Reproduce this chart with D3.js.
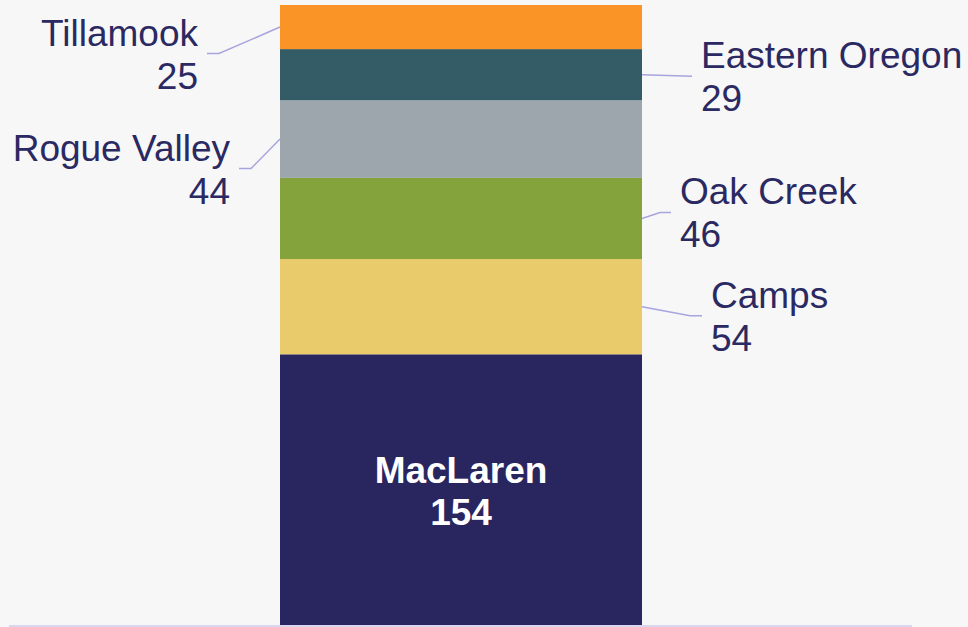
<!DOCTYPE html>
<html>
<head>
<meta charset="utf-8">
<script src="https://cdn.jsdelivr.net/npm/d3@7"></script>
<style>
  body { margin: 0; background: #f7f7f7; }
  svg { display: block; font-family: "Liberation Sans", Arial, sans-serif; }
</style>
</head>
<body>
<div id="chart"></div>
<script>
// data, bottom to top
var regions = ["MacLaren", "Camps", "Oak Creek", "Rogue Valley", "Eastern Oregon", "Tillamook"];
var counts = [154, 54, 46, 44, 29, 25];
var colors = ["#29265f", "#e9cb6b", "#84a33c", "#9ea6ad", "#335c67", "#fb9426"];

// svg params
var svgWidth = 968;
var svgHeight = 627;
var margin = { top: 5, right: 326, bottom: 1, left: 280 };
var chartWidth = svgWidth - margin.left - margin.right;
var chartHeight = svgHeight - margin.top - margin.bottom;
var fontSize = "37px";

var svg = d3.select("#chart")
  .append("svg")
  .attr("width", svgWidth)
  .attr("height", svgHeight);

var chartGroup = svg.append("g")
  .attr("transform", `translate(${margin.left}, ${margin.top})`);

// stack the values
var row = {};
regions.forEach((r, i) => row[r] = counts[i]);
var series = d3.stack().keys(regions)([row]);

var total = d3.sum(counts);

var xScale = d3.scaleBand()
  .domain(["Total"])
  .range([0, chartWidth]);

var yScale = d3.scaleLinear()
  .domain([0, total])
  .range([chartHeight, 0]);

// bars
chartGroup.selectAll(".seg")
  .data(series)
  .enter()
  .append("rect")
  .attr("class", "seg")
  .attr("x", xScale("Total"))
  .attr("width", xScale.bandwidth())
  .attr("y", d => yScale(d[0][1]))
  .attr("height", d => yScale(d[0][0]) - yScale(d[0][1]))
  .style("fill", (d, i) => colors[i]);

// baseline
svg.append("line")
  .attr("x1", 9).attr("x2", 912)
  .attr("y1", margin.top + chartHeight).attr("y2", margin.top + chartHeight)
  .style("stroke", "#dad6ef")
  .style("stroke-width", 2);

// inside label for the big segment
var big = series[0];
var bigMid = (yScale(big[0][0]) + yScale(big[0][1])) / 2;
var inside = chartGroup.append("text")
  .attr("text-anchor", "middle")
  .style("fill", "#ffffff")
  .style("font-weight", "bold")
  .style("font-size", fontSize);
inside.append("tspan")
  .attr("x", xScale("Total") + xScale.bandwidth() / 2)
  .attr("y", bigMid - 7)
  .text(regions[0]);
inside.append("tspan")
  .attr("x", xScale("Total") + xScale.bandwidth() / 2)
  .attr("y", bigMid + 35)
  .text(counts[0]);

// outside labels: side, elbow offset from bar edge / segment middle, horizontal tail
var outside = {
  "Camps":          { side: 1,  dx: 48,  dy: 9,    tail: 12 },
  "Oak Creek":      { side: 1,  dx: 18,  dy: -6,   tail: 11 },
  "Rogue Valley":   { side: -1, dx: 29,  dy: 29.5, tail: 12 },
  "Eastern Oregon": { side: 1,  dx: 50,  dy: 1.5,  tail: 0 },
  "Tillamook":      { side: -1, dx: 61,  dy: 26.5, tail: 12 }
};

series.slice(1).forEach((s, k) => {
  var i = k + 1;
  var o = outside[s.key];
  var midY = (yScale(s[0][0]) + yScale(s[0][1])) / 2;
  var edgeX = o.side > 0 ? xScale("Total") + xScale.bandwidth() : xScale("Total");
  var elbowX = edgeX + o.side * o.dx;
  var elbowY = midY + o.dy;
  var endX = elbowX + o.side * o.tail;

  chartGroup.append("polyline")
    .attr("points", [[edgeX, midY], [elbowX, elbowY], [endX, elbowY]].join(" "))
    .style("fill", "none")
    .style("stroke", "#a8a4e0")
    .style("stroke-width", 1.5);

  var tx = endX + o.side * 9;
  var label = chartGroup.append("text")
    .attr("text-anchor", o.side > 0 ? "start" : "end")
    .style("fill", "#2b2961")
    .style("font-size", fontSize);
  label.append("tspan")
    .attr("x", tx)
    .attr("y", elbowY - 8)
    .text(s.key);
  label.append("tspan")
    .attr("x", tx)
    .attr("y", elbowY + 35)
    .text(counts[i]);
});
</script>
</body>
</html>
